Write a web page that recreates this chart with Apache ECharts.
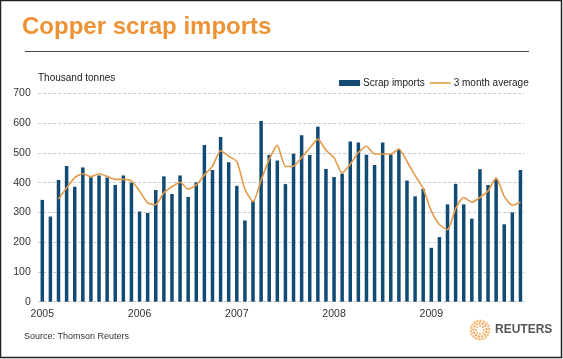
<!DOCTYPE html>
<html>
<head>
<meta charset="utf-8">
<script src="https://cdn.jsdelivr.net/npm/echarts@6/dist/echarts.min.js"></script>
<style>
html,body{margin:0;padding:0;background:#fff;}
#c{width:563px;height:359px;}
</style>
</head>
<body>
<div id="c"></div>
<script>
var years = ['2005', '2006', '2007', '2008', '2009'];
var scrapImports = [
  342, 286, 409, 456, 386, 451, 418, 424, 417, 392, 424, 400,
  303, 298, 375, 421, 362, 424, 352, 401, 526, 442, 553, 468,
  389, 273, 339, 607, 493, 474, 395, 497, 559, 493, 588, 446,
  419, 430, 538, 535, 494, 459, 535, 495, 510, 407, 354, 379,
  181, 217, 327, 396, 327, 279, 445, 392, 411, 260, 300, 442
];
var threeMonthAvg = [
  null, null, 345, 382, 417, 430, 420, 430, 421, 411, 411, 406,
  372, 332, 326, 366, 386, 401, 378, 392, 426, 455, 507, 489,
  471, 378, 336, 408, 478, 525, 454, 455, 484, 516, 546, 509,
  484, 432, 462, 501, 522, 496, 496, 496, 513, 471, 424, 380,
  305, 259, 242, 313, 350, 334, 350, 372, 416, 354, 324, 334
];
var yTicks = [0, 100, 200, 300, 400, 500, 600, 700];

var months = [];
years.forEach(function (y) {
  for (var m = 1; m <= 12; m++) months.push(y + '-' + (m < 10 ? '0' + m : m));
});

// decorative sunburst logo
var logo = [];
var cx = 480, cy = 330;
for (var ring = 0; ring < 3; ring++) {
  var r = 4 + ring * 2.6;
  var n = 8 + ring * 5;
  for (var k = 0; k < n; k++) {
    var a = (k / n) * Math.PI * 2 + ring * 0.3;
    logo.push({
      type: 'circle',
      shape: { cx: cx + r * Math.cos(a), cy: cy + r * Math.sin(a), r: 0.9 + ring * 0.25 },
      style: { fill: ring === 2 ? '#F6C48A' : '#F0A24E' },
      silent: true
    });
  }
}

var font = 'Liberation Sans, Arial, sans-serif';
var chart = echarts.init(document.getElementById('c'), null, { renderer: 'canvas' });
chart.setOption({
  animation: false,
  backgroundColor: '#fff',
  title: {
    text: 'Copper scrap imports',
    left: 17, top: 10,
    textStyle: { color: '#EE9236', fontSize: 24, fontWeight: 'bold', fontFamily: font }
  },
  legend: {
    left: 334, top: 73,
    itemWidth: 21, itemHeight: 6, itemGap: 5,
    textStyle: { color: '#222', fontSize: 10, fontFamily: font, padding: [0, 0, 0, -2] },
    data: [
      { name: 'Scrap imports', icon: 'rect' },
      { name: '3 month average', icon: 'path://M0,0 L21,0 L21,1.6 L0,1.6 Z' }
    ]
  },
  grid: { left: 38.25, right: 38.5, top: 93.3, bottom: 57.3, containLabel: false },
  xAxis: {
    type: 'category',
    data: months,
    boundaryGap: true,
    axisLine: { show: false },
    axisTick: { show: false },
    axisLabel: {
      interval: 0,
      margin: 7,
      color: '#333', fontSize: 10.5, fontFamily: font,
      formatter: function (v) { return v.slice(5) === '01' ? v.slice(0, 4) : ''; }
    },
    splitLine: { show: false }
  },
  yAxis: {
    type: 'value',
    min: 0, max: 700, interval: 100,
    axisLine: { show: false },
    axisTick: { show: false },
    axisLabel: {
      margin: 7.5, color: '#333', fontSize: 10.5, fontFamily: font,
      formatter: function (v) { return yTicks.indexOf(v) >= 0 ? String(v) : ''; }
    },
    splitLine: { show: true, lineStyle: { color: '#c8c8c8', type: [3, 2], width: 1 } }
  },
  series: [
    {
      name: 'Scrap imports',
      type: 'bar',
      data: scrapImports,
      barWidth: 3.5,
      itemStyle: { color: '#114A72' }
    },
    {
      name: '3 month average',
      type: 'line',
      data: threeMonthAvg,
      symbol: 'none',
      smooth: 0.2,
      lineStyle: { color: '#E39A48', width: 1.6 },
      itemStyle: { color: '#E39A48' },
      z: 3
    }
  ],
  graphic: [
    { type: 'rect', shape: { x: 0.5, y: 0.5, width: 561, height: 357 }, style: { fill: null, stroke: '#222', lineWidth: 1.5 }, silent: true },
    { type: 'line', shape: { x1: 25, y1: 51.5, x2: 529, y2: 51.5 }, style: { stroke: '#444', lineWidth: 1 }, silent: true },
    { type: 'text', left: 38, top: 73, style: { text: 'Thousand tonnes', fill: '#222', fontSize: 10, fontFamily: font } },
    { type: 'text', left: 24, top: 332, style: { text: 'Source: Thomson Reuters', fill: '#333', fontSize: 9, fontFamily: font } },
    { type: 'text', left: 495, top: 324, style: { text: 'REUTERS', fill: '#555', fontSize: 12, fontWeight: 'bold', fontFamily: font } }
  ].concat(logo)
});
</script>
</body>
</html>
